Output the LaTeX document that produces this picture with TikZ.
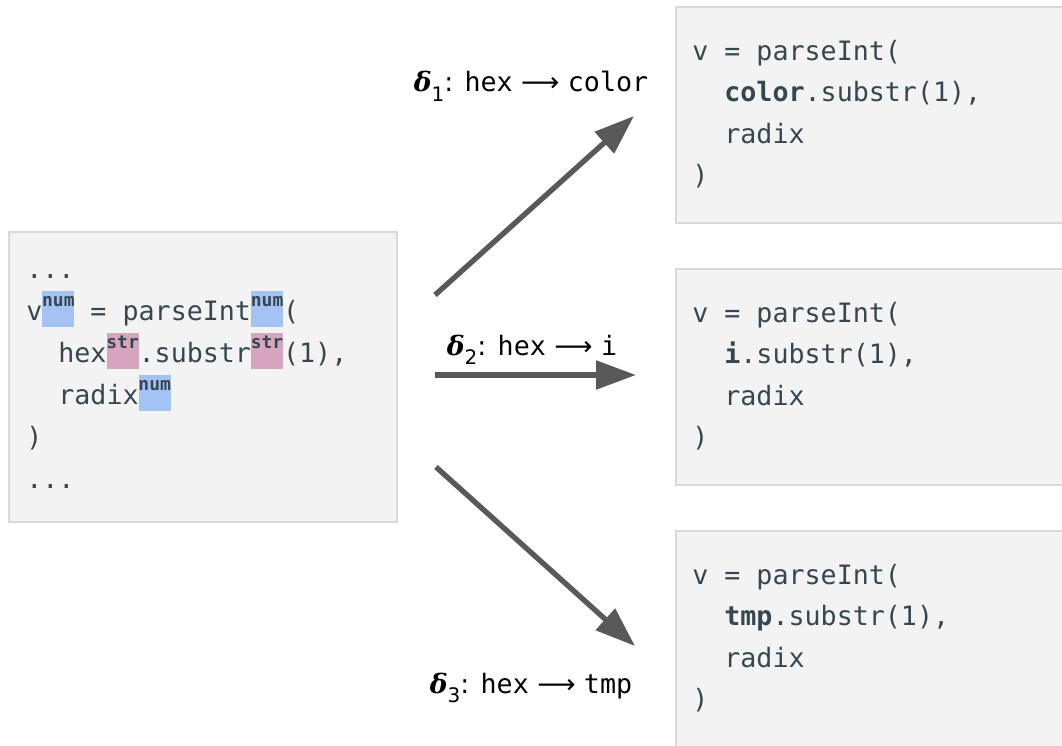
\documentclass[tikz,border=0pt]{standalone}
\usepackage{fontspec}
\setmainfont{DejaVu Sans}
\setmonofont{DejaVu Sans Mono}
\newfontfamily\deltafont{DejaVu Serif}
\usetikzlibrary{arrows.meta,positioning,calc}

\definecolor{boxfill}{HTML}{F3F3F3}
\definecolor{boxline}{HTML}{D9D9D9}
\definecolor{codeink}{HTML}{37474F}
\definecolor{numhl}{HTML}{A4C2F4}
\definecolor{strhl}{HTML}{D5A6BD}
\definecolor{arrowgray}{HTML}{595959}

\newlength{\codecw}\setlength{\codecw}{12.04pt}
% type annotation: coloured cell two characters wide, tag raised
\newcommand{\tyann}[2]{{\setlength{\fboxsep}{0pt}\colorbox{#1}{\makebox[2\codecw][c]{\rule[-5pt]{0pt}{27pt}\raisebox{10.5pt}{\fontsize{13.5}{13.5}\selectfont\bfseries #2}}}}}
\newcommand{\dlt}[1]{{\deltafont\bfseries\itshape δ}\raisebox{-7pt}{\fontsize{15}{15}\selectfont #1}}

\begin{document}
\begin{tikzpicture}[x=0.75pt,y=-0.75pt,>=Stealth,
  codebox/.style={draw=boxline,line width=1.5pt,fill=boxfill,inner sep=0pt,anchor=north west},
  code/.style={anchor=north west,inner sep=0pt,align=left,text=codeink,font=\ttfamily\fontsize{20}{31.5}\selectfont},
  rcode/.style={code,font=\ttfamily\fontsize{20}{31}\selectfont},
  flow/.style={-{Triangle[length=30pt,width=21pt]},line width=4pt,arrowgray},
  lbl/.style={anchor=base,font=\fontsize{20}{24}\selectfont}]
\useasboundingbox (0,0) rectangle (1062,745);
\clip (0,0) rectangle (1062,745);

% source program
\node[codebox,minimum width=291pt,minimum height=217.5pt] (src) at (8,231) {};
\node[code] (srccode) at ([shift={(18,27)}]src.north west) {\rule{0pt}{15pt}...\\
v\tyann{numhl}{num} = parseInt\tyann{numhl}{num}(\\
\hspace*{2\codecw}hex\tyann{strhl}{str}.substr\tyann{strhl}{str}(1),\\
\hspace*{2\codecw}radix\tyann{numhl}{num}\\
)\\
...};

% renamed variants
\foreach \n/\y/\w in {1/6/color,2/268/i,3/530/tmp}{
  \node[codebox,minimum width=293.25pt,minimum height=162pt] (tgt\n) at (675,\y) {};
  \node[rcode] (tgtcode\n) at ([shift={(17,34)}]tgt\n.north west) {\rule{0pt}{15pt}v = parseInt(\\
\hspace*{2\codecw}\textbf{\w}.substr(1),\\
\hspace*{2\codecw}radix\\
)};
}

\coordinate (s1) at (435,295); \coordinate (t1) at (634,116);
\coordinate (s2) at (435,375); \coordinate (t2) at (636,375);
\coordinate (s3) at (436,467); \coordinate (t3) at (635,646);
\foreach \n in {1,2,3}
  \draw[flow] (s\n) -- (t\n);

\foreach \n/\x/\y/\w in {1/531/92/color,2/532/355/i,3/531/693/tmp}
  \node[lbl] (lbl\n) at (\x,\y) {\dlt{\n}: \texttt{hex} ⟶ \texttt{\w}};
\end{tikzpicture}
\end{document}
